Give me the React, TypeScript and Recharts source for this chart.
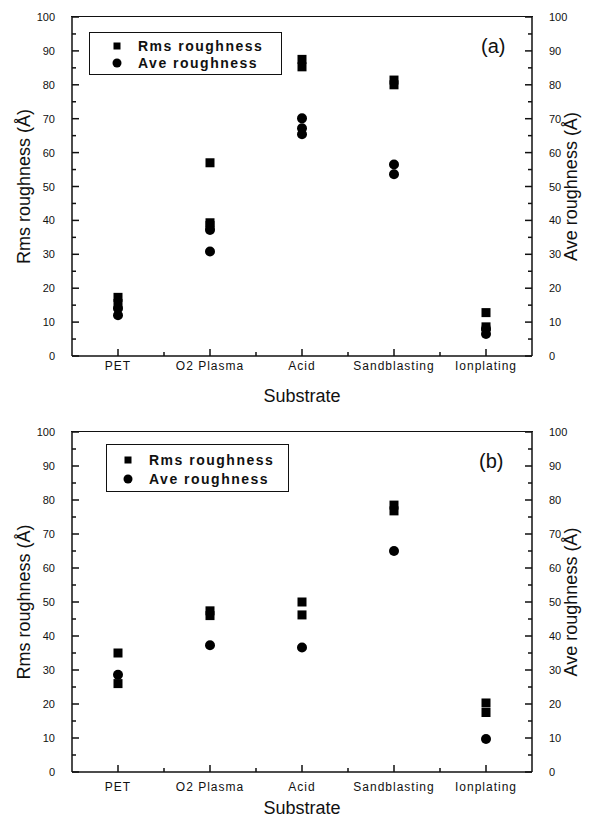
import React from "react";
import { ScatterChart, Scatter, XAxis, YAxis, Legend } from "recharts";

const substrates = ["PET", "O2 Plasma", "Acid", "Sandblasting", "Ionplating"];
const xTicks = [0, 0.5, 1, 1.5, 2, 2.5, 3, 3.5, 4];
const yTicks = [0, 5, 10, 15, 20, 25, 30, 35, 40, 45, 50, 55, 60, 65, 70, 75, 80, 85, 90, 95, 100];

// panel (a) — one inner list per substrate
const rmsA = [[17.3, 15.5], [57, 39.3, 38.5], [87.5, 85.3], [81.4, 80], [12.8, 8.6]];
const aveA = [[14, 12], [37.2, 30.8], [70.1, 67.2, 65.4], [56.5, 53.6], [8, 6.5]];

// panel (b)
const rmsB = [[35, 26], [47.4, 46], [50, 46.2], [78.5, 76.8], [20.3, 17.5]];
const aveB = [[28.6], [37.3], [36.6], [65], [9.7]];

const FONT = '"Liberation Sans", Arial, Helvetica, sans-serif';
const INK = "#111";
const LW = 1.5;

const PLOT_LEFT = 72;
const PLOT_RIGHT_W = 60;
const WIDTH = 592;

const toPoints = (vals: number[][]) =>
  vals.flatMap((col, i) => col.map((y) => ({ x: i, y })));

// tick marks point into the plot; labels only on the major ones
function XTick(props: any) {
  const { x, y, payload, labelGap } = props;
  const v = payload.value as number;
  const major = Number.isInteger(v);
  const len = major ? 7 : 4;
  return (
    <g>
      <line x1={x} x2={x} y1={y} y2={y - len} stroke={INK} strokeWidth={LW} />
      {major && (
        <text x={x} y={y + labelGap} textAnchor="middle" fontSize={12} letterSpacing={1}
          fontFamily={FONT} fill={INK}>
          {substrates[v]}
        </text>
      )}
    </g>
  );
}

function YTick(props: any) {
  const { x, y, payload, side } = props;
  const v = payload.value as number;
  const major = v % 10 === 0;
  const len = major ? 7 : 4;
  const left = side === "left";
  return (
    <g>
      <line x1={x} x2={left ? x + len : x - len} y1={y} y2={y} stroke={INK} strokeWidth={LW} />
      {major && (
        <text x={left ? x - 17 : x + 17} y={y + 4}
          textAnchor={left ? "end" : "start"} fontSize={11}
          fontFamily={FONT} fill={INK}>
          {v}
        </text>
      )}
    </g>
  );
}

function YTitle(props: any) {
  const { viewBox, value, inset } = props;
  const x = viewBox.x + inset;
  const y = viewBox.y + viewBox.height / 2;
  return (
    <text x={x} y={y} transform={`rotate(-90, ${x}, ${y})`} textAnchor="middle"
      fontSize={18} fontFamily={FONT} fill={INK}>
      {value}
    </text>
  );
}

function Square(p: any) {
  return <rect x={p.cx - 4.5} y={p.cy - 4.5} width={9} height={9} fill="#000" />;
}

function Dot(p: any) {
  return <circle cx={p.cx} cy={p.cy} r={5} fill="#000" />;
}

interface LegendBox {
  left: number;
  top: number;
  width: number;
  height: number;
  row1: number;
  row2: number;
  symX: number;
  textX: number;
}

function LegendContent({ box }: { box: LegendBox }) {
  const rowStyle = (cy: number): React.CSSProperties => ({
    position: "absolute",
    left: box.textX,
    top: cy - 9,
    lineHeight: "18px",
    whiteSpace: "nowrap",
  });
  return (
    <div
      style={{
        position: "relative",
        width: box.width,
        height: box.height,
        border: `${LW}px solid ${INK}`,
        boxSizing: "border-box",
        fontFamily: FONT,
        fontWeight: "bold",
        fontSize: 14,
        letterSpacing: 1.5,
        color: INK,
        background: "#fff",
      }}
    >
      <svg width={box.width} height={box.height} style={{ position: "absolute", left: -1, top: -1 }}>
        <rect x={box.symX - 3.5} y={box.row1 - 3.5} width={7} height={7} fill="#000" />
        <circle cx={box.symX} cy={box.row2} r={4.5} fill="#000" />
      </svg>
      <div style={rowStyle(box.row1 - 1)}>Rms roughness</div>
      <div style={rowStyle(box.row2 - 1)}>Ave roughness</div>
    </div>
  );
}

interface PanelProps {
  rms: number[][];
  ave: number[][];
  tag: string;
  height: number;
  marginTop: number;
  xAxisHeight: number;
  labelGap: number;
  titleOffset: number;
  box: LegendBox;
  tagLeft: number;
  tagTop: number;
}

function Panel(p: PanelProps) {
  const plotH = p.height - p.marginTop - p.xAxisHeight;
  const axisLine = { stroke: INK, strokeWidth: LW };
  return (
    <div style={{ position: "relative", width: WIDTH, height: p.height }}>
      <ScatterChart width={WIDTH} height={p.height}
        margin={{ top: p.marginTop, right: 0, bottom: 0, left: 0 }}>
        <XAxis dataKey="x" type="number" domain={[-0.5, 4.5]} ticks={xTicks} interval={0}
          tickSize={0} tickMargin={0} tickLine={false} height={p.xAxisHeight}
          axisLine={axisLine}
          tick={<XTick labelGap={p.labelGap} />}
          label={{ value: "Substrate", position: "insideBottom", offset: p.titleOffset,
            fontSize: 18, fontFamily: FONT, fill: INK }} />
        <YAxis yAxisId="left" orientation="left" dataKey="y" type="number" width={PLOT_LEFT}
          domain={[0, 100]} ticks={yTicks} interval={0} tickSize={0} tickMargin={0}
          tickLine={false} axisLine={axisLine}
          tick={<YTick side="left" />}
          label={<YTitle value="Rms roughness (Å)" inset={30} />} />
        <YAxis yAxisId="right" orientation="right" dataKey="y" type="number" width={PLOT_RIGHT_W}
          domain={[0, 100]} ticks={yTicks} interval={0} tickSize={0} tickMargin={0}
          tickLine={false} axisLine={axisLine}
          tick={<YTick side="right" />}
          label={<YTitle value="Ave roughness (Å)" inset={45} />} />
        <Legend layout="horizontal" verticalAlign="middle" align="center" width={p.box.width}
          wrapperStyle={{ left: p.box.left, top: p.box.top }}
          content={() => <LegendContent box={p.box} />} />
        <Scatter name="Rms roughness" yAxisId="left" data={toPoints(p.rms)}
          shape={(s: any) => <Square {...s} />} isAnimationActive={false} />
        <Scatter name="Ave roughness" yAxisId="right" data={toPoints(p.ave)}
          shape={(s: any) => <Dot {...s} />} isAnimationActive={false} />
      </ScatterChart>
      {/* top edge of the plot frame */}
      <div style={{ position: "absolute", left: PLOT_LEFT - 1, top: p.marginTop - 1,
        width: WIDTH - PLOT_LEFT - PLOT_RIGHT_W + 2, height: plotH + 2,
        borderTop: `${LW}px solid ${INK}`, boxSizing: "border-box", pointerEvents: "none" }} />
      <div style={{ position: "absolute", left: p.tagLeft, top: p.tagTop, fontFamily: FONT,
        fontSize: 20, color: INK }}>
        {p.tag}
      </div>
    </div>
  );
}

export default function App() {
  return (
    <div style={{ position: "absolute", left: 0, top: 0, width: WIDTH, height: 819, background: "#fff" }}>
      <Panel rms={rmsA} ave={aveA} tag="(a)" height={410} marginTop={17} xAxisHeight={54}
        labelGap={14} titleOffset={8} tagLeft={481} tagTop={35}
        box={{ left: 89, top: 32, width: 193, height: 43, row1: 14, row2: 31, symX: 28, textX: 48 }} />
      <Panel rms={rmsB} ave={aveB} tag="(b)" height={409} marginTop={22} xAxisHeight={47}
        labelGap={19} titleOffset={5} tagLeft={479} tagTop={40}
        box={{ left: 106, top: 34, width: 183, height: 48, row1: 16, row2: 35, symX: 22, textX: 42 }} />
    </div>
  );
}
